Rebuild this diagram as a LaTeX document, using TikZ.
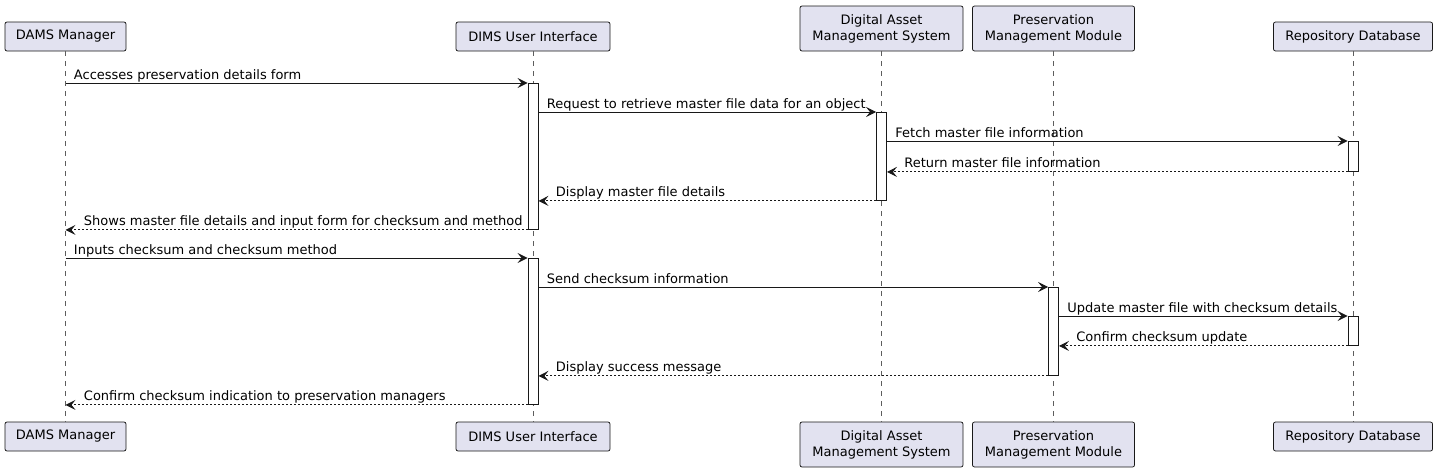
\documentclass[tikz,border=0pt]{standalone}
\usepackage{fontspec}
\setmainfont{DejaVu Sans}
\usetikzlibrary{arrows.meta}

\definecolor{partfill}{RGB}{226,226,240}
\definecolor{umlline}{RGB}{24,24,24}

\tikzset{
  part/.style={draw=umlline, fill=partfill, rounded corners=2pt, align=center, inner sep=0pt, line width=0.75pt, font=\fontsize{13}{16}\selectfont},
  lifeline/.style={draw=umlline!70, line width=0.5pt, dash pattern=on 5pt off 5pt},
  act/.style={draw=umlline, fill=white, minimum width=10pt, inner sep=0pt, anchor=north, line width=0.9pt},
  msg/.style={draw=umlline, line width=0.9pt, -{Stealth[length=10pt,width=10pt,inset=4pt]}},
  ret/.style={msg, dash pattern=on 2pt off 2pt},
  lbl/.style={inner sep=0pt, anchor=base west, text=black, font=\fontsize{13}{16}\selectfont}
}

\begin{document}
\begin{tikzpicture}[x=1pt,y=1pt,yscale=-1,xscale=1]

\useasboundingbox (0,0) rectangle (1438,472);

% participants, top
\node[part, minimum width=121pt, minimum height=29pt] (mgrT) at (65.5,36.5) {DAMS Manager};
\node[part, minimum width=154pt, minimum height=29pt] (uiT) at (533,36.5) {DIMS User Interface};
\node[part, minimum width=163pt, minimum height=45pt] (damsT) at (881.5,28.5) {Digital Asset\\Management System};
\node[part, minimum width=162pt, minimum height=45pt] (pmmT) at (1053.5,28.5) {Preservation\\Management Module};
\node[part, minimum width=159pt, minimum height=29pt] (repoT) at (1353,36.5) {Repository Database};

% participants, bottom
\node[part, minimum width=121pt, minimum height=29pt] (mgrB) at (65.5,436.5) {DAMS Manager};
\node[part, minimum width=154pt, minimum height=29pt] (uiB) at (533,436.5) {DIMS User Interface};
\node[part, minimum width=163pt, minimum height=45pt] (damsB) at (881.5,444.5) {Digital Asset\\Management System};
\node[part, minimum width=162pt, minimum height=45pt] (pmmB) at (1053.5,444.5) {Preservation\\Management Module};
\node[part, minimum width=159pt, minimum height=29pt] (repoB) at (1353,436.5) {Repository Database};

% lifelines
\draw[lifeline] (mgrT) -- (mgrB);
\draw[lifeline] (uiT) -- (uiB);
\draw[lifeline] (damsT) -- (damsB);
\draw[lifeline] (pmmT) -- (pmmB);
\draw[lifeline] (repoT) -- (repoB);

% activations
\node[act, minimum height=146pt] (ui1) at (533,83) {};
\node[act, minimum height=88pt] (dams1) at (881.5,112) {};
\node[act, minimum height=30pt] (repo1) at (1353,141) {};
\node[act, minimum height=146pt] (ui2) at (533,258) {};
\node[act, minimum height=88pt] (pmm1) at (1053.5,287) {};
\node[act, minimum height=29pt] (repo2) at (1353,316) {};

% messages
\draw[msg] (mgrT |- ui1.north) -- node[lbl, pos=0, xshift=8pt, yshift=4pt] {Accesses preservation details form} (ui1.north west);
\draw[msg] (ui1.east |- dams1.north) -- node[lbl, pos=0, xshift=8pt, yshift=4pt] {Request to retrieve master file data for an object} (dams1.north west);
\draw[msg] (dams1.east |- repo1.north) -- node[lbl, pos=0, xshift=8pt, yshift=4pt] {Fetch master file information} (repo1.north west);
\draw[ret] (repo1.south west) -- node[lbl, pos=1, xshift=17pt, yshift=4pt] {Return master file information} (dams1.east |- repo1.south);
\draw[ret] (dams1.south west) -- node[lbl, pos=1, xshift=17pt, yshift=4pt] {Display master file details} (ui1.east |- dams1.south);
\draw[ret] (ui1.south west) -- node[lbl, pos=1, xshift=18pt, yshift=4pt] {Shows master file details and input form for checksum and method} (mgrT |- ui1.south);

\draw[msg] (mgrT |- ui2.north) -- node[lbl, pos=0, xshift=8pt, yshift=4pt] {Inputs checksum and checksum method} (ui2.north west);
\draw[msg] (ui2.east |- pmm1.north) -- node[lbl, pos=0, xshift=8pt, yshift=4pt] {Send checksum information} (pmm1.north west);
\draw[msg] (pmm1.east |- repo2.north) -- node[lbl, pos=0, xshift=8pt, yshift=4pt] {Update master file with checksum details} (repo2.north west);
\draw[ret] (repo2.south west) -- node[lbl, pos=1, xshift=17pt, yshift=4pt] {Confirm checksum update} (pmm1.east |- repo2.south);
\draw[ret] (pmm1.south west) -- node[lbl, pos=1, xshift=17pt, yshift=4pt] {Display success message} (ui2.east |- pmm1.south);
\draw[ret] (ui2.south west) -- node[lbl, pos=1, xshift=18pt, yshift=4pt] {Confirm checksum indication to preservation managers} (mgrT |- ui2.south);

\end{tikzpicture}
\end{document}
